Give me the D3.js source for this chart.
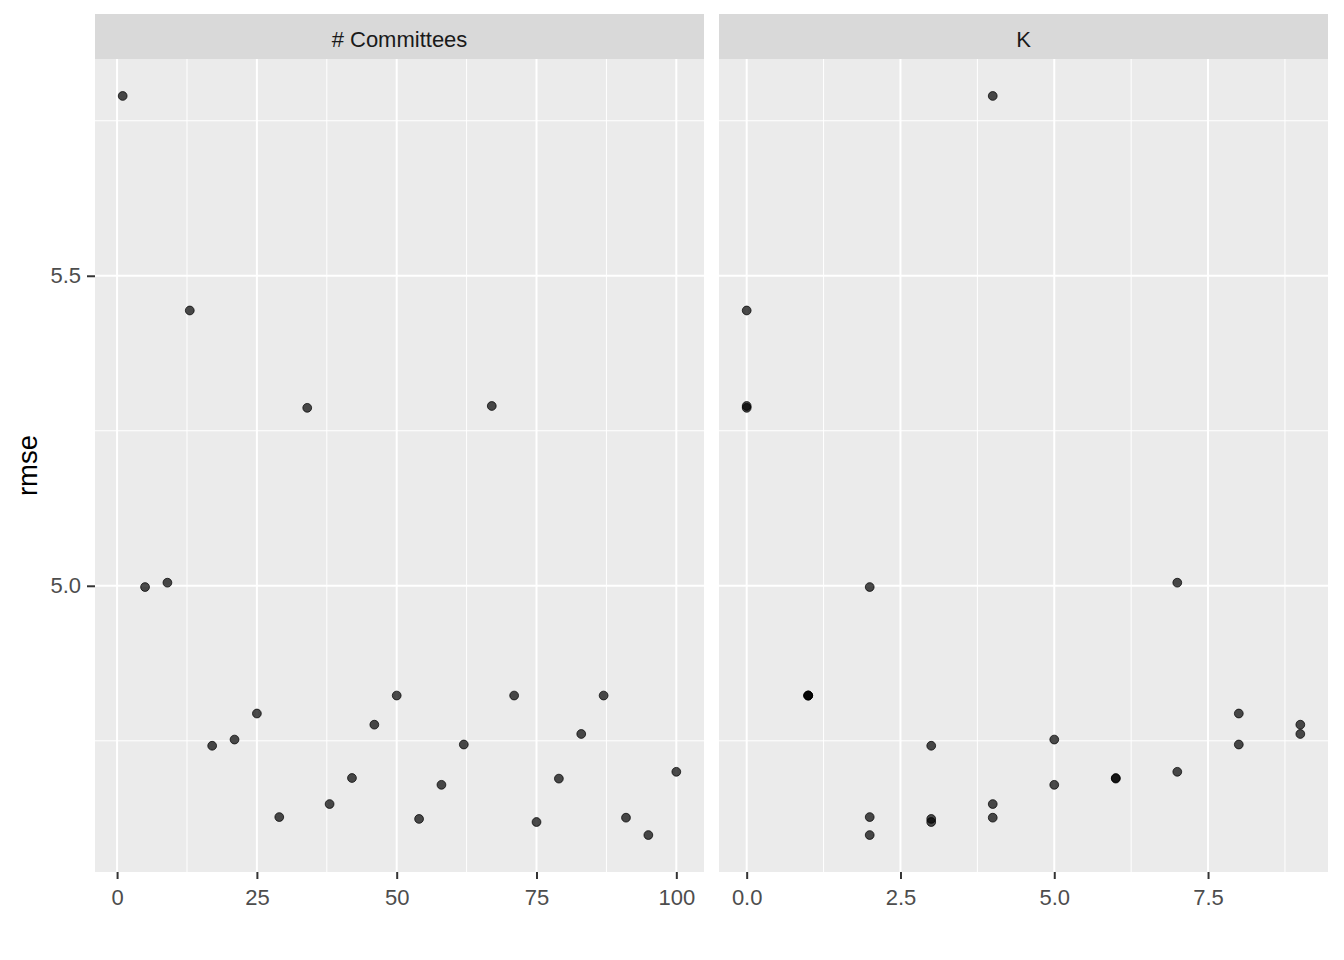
<!DOCTYPE html>
<html>
<head>
<meta charset="utf-8">
<script src="https://cdn.jsdelivr.net/npm/d3@7"></script>
<style>
  body { margin: 0; background: #fff; }
  svg { display: block; font-family: "Liberation Sans", Arial, sans-serif; }
</style>
</head>
<body>
<svg id="chart" width="1344" height="960"></svg>
<script>
// Tuning results: each row is one resample, plotted against both parameters.
const committees = [1, 5, 9, 13, 17, 21, 25, 29, 34, 38, 42, 46, 50, 54, 58, 62, 67, 71, 75, 79, 83, 87, 91, 95, 100];
const neighbors  = [4, 2, 7, 0, 3, 5, 8, 2, 0, 4, 6, 9, 1, 3, 5, 8, 0, 1, 3, 6, 9, 1, 4, 2, 7];
const rmse = [5.790, 4.998, 5.005, 5.444, 4.742, 4.752, 4.794, 4.627, 5.287, 4.648, 4.690, 4.776, 4.823,
              4.624, 4.679, 4.744, 5.290, 4.823, 4.619, 4.689, 4.761, 4.823, 4.626, 4.598, 4.700];
const facetNames = ['# Committees', 'K'];
const yTicks = [5.0, 5.5];
const yMinor = [4.75, 5.25, 5.75];
const xTicksCom = [0, 25, 50, 75, 100];
const xMinorCom = [12.5, 37.5, 62.5, 87.5];
const xTicksK = [0, 2.5, 5, 7.5];
const xMinorK = [1.25, 3.75, 6.25, 8.75];

const svg = d3.select('#chart');
const panelTop = 59, panelBottom = 872, stripTop = 14;
const panels = [
  { name: facetNames[0], xs: committees, x0: 95, x1: 704, ticks: xTicksCom, minor: xMinorCom, fmt: d3.format('d') },
  { name: facetNames[1], xs: neighbors, x0: 719, x1: 1328, ticks: xTicksK, minor: xMinorK, fmt: d3.format('.1f') }
];

// ggplot-style 5% expansion on continuous scales
function expand(ext) {
  const pad = (ext[1] - ext[0]) * 0.05;
  return [ext[0] - pad, ext[1] + pad];
}
const y = d3.scaleLinear().domain(expand(d3.extent(rmse))).range([panelBottom, panelTop]);

panels.forEach((p, i) => {
  const x = d3.scaleLinear().domain(expand(d3.extent(p.xs))).range([p.x0, p.x1]);
  const g = svg.append('g');
  g.append('rect').attr('x', p.x0).attr('y', panelTop).attr('width', p.x1 - p.x0).attr('height', panelBottom - panelTop).attr('fill', '#EBEBEB');
  // strip
  g.append('rect').attr('x', p.x0).attr('y', stripTop).attr('width', p.x1 - p.x0).attr('height', panelTop - stripTop).attr('fill', '#D9D9D9');
  g.append('text').attr('x', (p.x0 + p.x1) / 2).attr('y', 47)
    .attr('text-anchor', 'middle').attr('font-size', 22).attr('fill', '#1A1A1A').text(p.name);

  // grid
  g.selectAll('.ymin').data(yMinor).join('line')
    .attr('x1', p.x0).attr('x2', p.x1).attr('y1', d => y(d)).attr('y2', d => y(d))
    .attr('stroke', '#fff').attr('stroke-width', 1);
  g.selectAll('.xmin').data(p.minor).join('line')
    .attr('x1', d => x(d)).attr('x2', d => x(d)).attr('y1', panelTop).attr('y2', panelBottom)
    .attr('stroke', '#fff').attr('stroke-width', 1);
  g.selectAll('.ymaj').data(yTicks).join('line')
    .attr('x1', p.x0).attr('x2', p.x1).attr('y1', d => y(d)).attr('y2', d => y(d))
    .attr('stroke', '#fff').attr('stroke-width', 2);
  g.selectAll('.xmaj').data(p.ticks).join('line')
    .attr('x1', d => x(d)).attr('x2', d => x(d)).attr('y1', panelTop).attr('y2', panelBottom)
    .attr('stroke', '#fff').attr('stroke-width', 2);

  // x axis
  const ax = g.append('g').attr('transform', `translate(0,${panelBottom})`)
    .call(d3.axisBottom(x).tickValues(p.ticks).tickFormat(p.fmt).tickSize(7).tickPadding(10));
  ax.select('.domain').remove();
  ax.selectAll('line').attr('stroke', '#333').attr('stroke-width', 2);
  ax.selectAll('text').attr('font-size', 22).attr('fill', '#4D4D4D').attr('font-family', '"Liberation Sans", Arial, sans-serif');

  // y axis only on first panel
  if (i === 0) {
    const ay = g.append('g').attr('transform', `translate(${p.x0},0)`)
      .call(d3.axisLeft(y).tickValues(yTicks).tickFormat(d3.format('.1f')).tickSize(8).tickPadding(6));
    ay.select('.domain').remove();
    ay.selectAll('line').attr('stroke', '#333').attr('stroke-width', 2);
    ay.selectAll('text').attr('font-size', 22).attr('fill', '#4D4D4D').attr('font-family', '"Liberation Sans", Arial, sans-serif');
  }

  // points
  g.selectAll('circle.pt').data(rmse).join('circle').attr('class', 'pt')
    .attr('cx', (d, j) => x(p.xs[j])).attr('cy', d => y(d)).attr('r', 4.4)
    .attr('fill', '#000').attr('fill-opacity', 0.7)
    .attr('stroke', '#000').attr('stroke-opacity', 0.8).attr('stroke-width', 0.9);
});

svg.append('text').attr('transform', `translate(37,${(panelTop + panelBottom) / 2}) rotate(-90)`)
  .attr('text-anchor', 'middle').attr('font-size', 27.5).attr('fill', '#000').text('rmse');
</script>
</body>
</html>
